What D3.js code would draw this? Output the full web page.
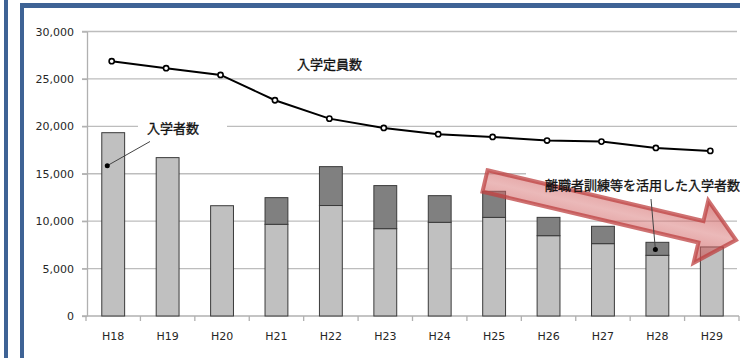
<!DOCTYPE html>
<html>
<head>
<meta charset="utf-8">
<script src="https://cdn.jsdelivr.net/npm/d3@7/dist/d3.min.js"></script>
<style>
  html, body { margin: 0; padding: 0; background: #fff; }
  svg { display: block; }
</style>
</head>
<body>
<svg id="chart" width="740" height="358"></svg>
<script>
// Fiscal years (Heisei)
const categories = ['H18','H19','H20','H21','H22','H23','H24','H25','H26','H27','H28','H29'];
// Enrolment capacity (入学定員数)
const capacity = [26870, 26130, 25420, 22750, 20810, 19830, 19170, 18880, 18500, 18390, 17720, 17410];
// Regular entrants
const regularEntrants = [19330, 16700, 11630, 9670, 11650, 9210, 9880, 10400, 8470, 7630, 6400, 7280];
// Entrants via job-seeker training (離職者訓練等を活用した入学者数)
const trainingEntrants = [0, 0, 0, 2810, 4100, 4540, 2810, 2750, 1930, 1830, 1370, 0];
// Y axis tick values
const yTicks = [0, 5000, 10000, 15000, 20000, 25000, 30000];

const svg = d3.select('#chart');
const blue = '#3e6395';

// Frame around the panel
svg.append('rect').attr('x', 4).attr('y', 0).attr('width', 4).attr('height', 358).attr('fill', blue);
svg.append('rect').attr('x', 20).attr('y', 3).attr('width', 720).attr('height', 5).attr('fill', blue);
svg.append('rect').attr('x', 20).attr('y', 3).attr('width', 4).attr('height', 355).attr('fill', blue);

const plot = { left: 87, right: 739, top: 31.5, bottom: 316 };

const y = d3.scaleLinear().domain([0, 30000]).range([plot.bottom, plot.top]);
const xCat = d3.scaleBand().domain(categories).range([plot.left - 1, plot.right]).padding(0);
const xBar = d3.scaleBand().domain(categories).range([plot.left - 1, plot.right])
  .paddingInner(0.58).paddingOuter(0.29);

// Horizontal gridlines
svg.append('g').selectAll('line').data(yTicks.filter(d => d > 0)).join('line')
  .attr('x1', 82).attr('x2', 737)
  .attr('y1', d => y(d)).attr('y2', d => y(d))
  .attr('stroke', '#bdbdbd').attr('stroke-width', 1.3);

// Y axis
const yAxis = svg.append('g').attr('transform', `translate(${plot.left},0)`)
  .call(d3.axisLeft(y).tickValues(yTicks).tickFormat(d3.format(',')).tickSize(5).tickSizeOuter(0).tickPadding(8));
yAxis.select('.domain').attr('stroke', '#b0b0b0').attr('stroke-width', 1.3);
yAxis.selectAll('.tick line').attr('stroke', '#b0b0b0').attr('stroke-width', 1.3);
yAxis.selectAll('.tick text').attr('font-family', 'DejaVu Sans, sans-serif').attr('font-size', 11).attr('fill', '#262626');

// X axis line and boundary ticks
svg.append('line').attr('x1', 82).attr('x2', plot.right).attr('y1', plot.bottom).attr('y2', plot.bottom)
  .attr('stroke', '#b0b0b0').attr('stroke-width', 1.3);
const boundaries = categories.map(c => xCat(c)).concat([xCat(categories[categories.length - 1]) + xCat.step()]);
svg.append('g').selectAll('line').data(boundaries).join('line')
  .attr('x1', d => d).attr('x2', d => d).attr('y1', plot.bottom).attr('y2', plot.bottom + 5)
  .attr('stroke', '#b0b0b0').attr('stroke-width', 1.3);
const xAxis = svg.append('g').attr('transform', `translate(0,${plot.bottom})`)
  .call(d3.axisBottom(xCat).tickSize(0).tickPadding(16));
xAxis.select('.domain').remove();
xAxis.selectAll('.tick text').attr('font-family', 'DejaVu Sans, sans-serif').attr('font-size', 11).attr('fill', '#262626');

// Stacked bars
const rows = categories.map((c, i) => ({ c, regular: regularEntrants[i], training: trainingEntrants[i] }));
const bars = svg.append('g');
bars.selectAll('rect.reg').data(rows).join('rect').attr('class', 'reg')
  .attr('x', d => xBar(d.c)).attr('width', xBar.bandwidth())
  .attr('y', d => y(d.regular)).attr('height', d => y(0) - y(d.regular))
  .attr('fill', '#c0c0c0').attr('stroke', '#3a3a3a').attr('stroke-width', 1);
bars.selectAll('rect.trn').data(rows.filter(d => d.training > 0)).join('rect').attr('class', 'trn')
  .attr('x', d => xBar(d.c)).attr('width', xBar.bandwidth())
  .attr('y', d => y(d.regular + d.training)).attr('height', d => y(d.regular) - y(d.regular + d.training))
  .attr('fill', '#808080').attr('stroke', '#3a3a3a').attr('stroke-width', 1);

// Capacity line
const cx = c => xCat(c) + xCat.bandwidth() / 2 - 1.5;
const lineData = categories.map((c, i) => ({ c, v: capacity[i] }));
svg.append('path').datum(lineData)
  .attr('d', d3.line().x(d => cx(d.c)).y(d => y(d.v)))
  .attr('fill', 'none').attr('stroke', '#000').attr('stroke-width', 2);
svg.append('g').selectAll('circle').data(lineData).join('circle')
  .attr('cx', d => cx(d.c)).attr('cy', d => y(d.v)).attr('r', 2.6)
  .attr('fill', '#fff').attr('stroke', '#000').attr('stroke-width', 1.6);

const jp = 'Noto Sans CJK JP, sans-serif';
const jpLabel = (x, yy, t) => svg.append('text').attr('x', x).attr('y', yy).text(t)
  .attr('font-family', jp).attr('font-size', 13).attr('fill', '#111')
  .attr('stroke', '#111').attr('stroke-width', 0.35);

// Label for capacity line
jpLabel(297, 69, '入学定員数');

// Label for entrants, with a callout to the H18 bar
svg.append('rect').attr('x', 138).attr('y', 120).attr('width', 89).attr('height', 15).attr('fill', '#fff');
jpLabel(147, 133, '入学者数');
const h18 = rows[0];
const dot1 = { x: xBar(h18.c) + 5.5, y: y(h18.regular * 0.82) };
svg.append('line').attr('x1', 150).attr('y1', 141.5).attr('x2', dot1.x).attr('y2', dot1.y)
  .attr('stroke', '#444').attr('stroke-width', 1);
svg.append('circle').attr('cx', dot1.x).attr('cy', dot1.y).attr('r', 2.5).attr('fill', '#000');

// White backing for the training-entrants label
svg.append('rect').attr('x', 526).attr('y', 172).attr('width', 214).attr('height', 24).attr('fill', '#fff');

// Downward trend arrow
const S = [485, 181], T = [736, 240];
const ang = Math.atan2(T[1] - S[1], T[0] - S[0]) * 180 / Math.PI;
const L = Math.hypot(T[0] - S[0], T[1] - S[1]);
const sw = 11, hw = 32, hl = 36;
const defs = svg.append('defs');
const grad = defs.append('linearGradient').attr('id', 'arrowGrad')
  .attr('gradientUnits', 'userSpaceOnUse').attr('x1', 0).attr('y1', -hw).attr('x2', 0).attr('y2', hw);
grad.append('stop').attr('offset', '0%').attr('stop-color', 'rgb(200,75,75)').attr('stop-opacity', 0.65);
grad.append('stop').attr('offset', '50%').attr('stop-color', 'rgb(215,115,115)').attr('stop-opacity', 0.5);
grad.append('stop').attr('offset', '100%').attr('stop-color', 'rgb(200,75,75)').attr('stop-opacity', 0.65);
const arrowPts = [[0, -sw], [L - hl, -sw], [L - hl, -hw], [L, 0], [L - hl, hw], [L - hl, sw], [0, sw]];
svg.append('path')
  .attr('transform', `translate(${S[0]},${S[1]}) rotate(${ang})`)
  .attr('d', d3.line()(arrowPts) + 'Z')
  .attr('fill', 'url(#arrowGrad)')
  .attr('stroke', 'rgba(190,65,65,0.75)').attr('stroke-width', 4).attr('stroke-linejoin', 'miter');

// Label for training entrants, with a callout to the H28 bar
jpLabel(545, 190, '離職者訓練等を活用した入学者数');
const h28 = rows[10];
const dot2 = { x: xBar(h28.c) + xBar.bandwidth() / 2 - 2, y: y(h28.regular + h28.training * 0.45) };
svg.append('line').attr('x1', 651).attr('y1', 199).attr('x2', dot2.x).attr('y2', dot2.y)
  .attr('stroke', '#444').attr('stroke-width', 1);
svg.append('circle').attr('cx', dot2.x).attr('cy', dot2.y).attr('r', 2.5).attr('fill', '#000');
</script>
</body>
</html>
